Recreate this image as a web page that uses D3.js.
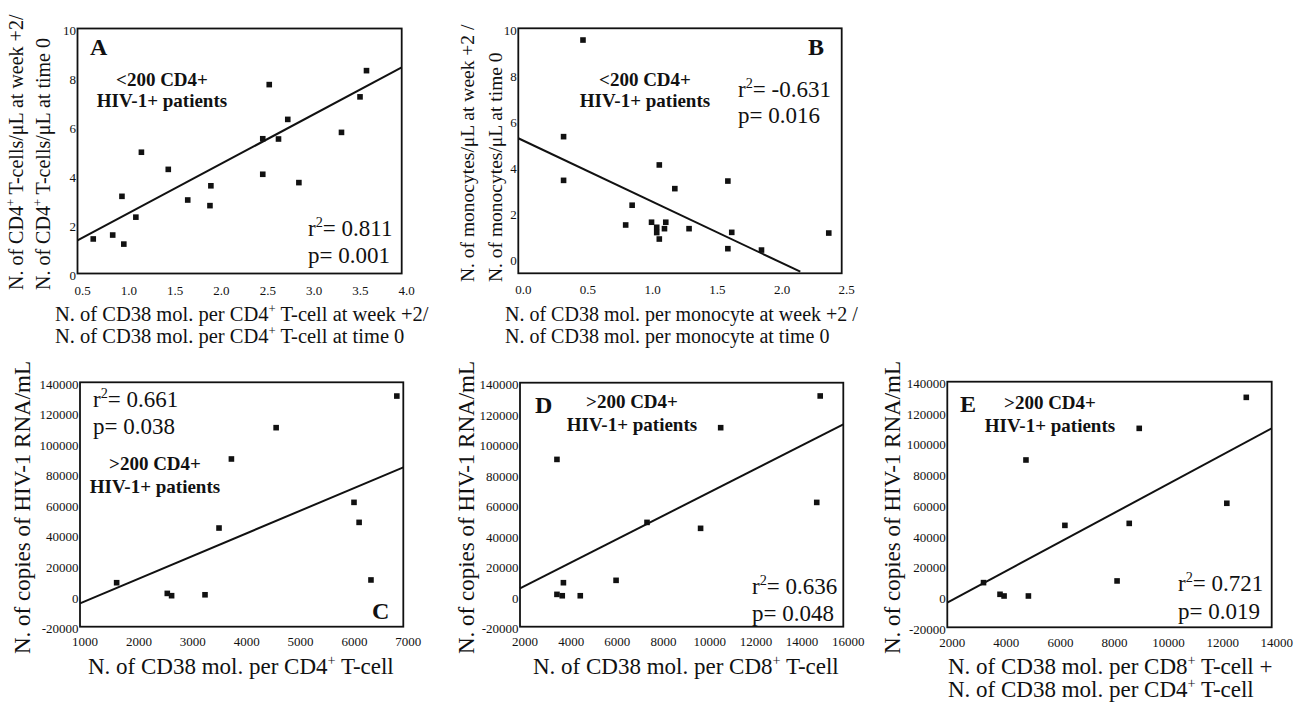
<!DOCTYPE html>
<html>
<head>
<meta charset="utf-8">
<script src="https://cdn.jsdelivr.net/npm/d3@7"></script>
<style>
  html, body { margin: 0; padding: 0; background: #fff; }
  svg { display: block; }
  text { font-family: "Liberation Serif", "Times New Roman", serif; fill: #111; }
</style>
</head>
<body>
<svg id="fig" width="1294" height="702"></svg>
<script>
// ---- Panel A: CD4+ T-cell ratio vs CD38 ratio (<200 CD4+ patients)
const aX = [0.67, 0.88, 1.00, 0.98, 1.13, 1.19, 1.48, 1.69, 1.93, 1.94, 2.50, 2.50, 2.57, 2.67, 2.77, 2.89, 3.35, 3.55, 3.62];
const aY = [1.41, 1.57, 1.20, 3.15, 2.30, 4.95, 4.25, 3.00, 2.77, 3.58, 5.50, 4.05, 7.71, 5.49, 6.29, 3.71, 5.76, 7.21, 8.28];
const aFit = [[0.5, 1.35], [4.0, 8.41]];
const aXTicks = [0.5, 1.0, 1.5, 2.0, 2.5, 3.0, 3.5, 4.0];
const aYTicks = [0, 2, 4, 6, 8, 10];

// ---- Panel B: monocyte ratio vs CD38 ratio (<200 CD4+ patients)
const bX = [0.50, 0.35, 0.35, 0.83, 0.88, 1.03, 1.07, 1.07, 1.09, 1.09, 1.13, 1.14, 1.21, 1.32, 1.62, 1.62, 1.65, 1.88, 2.40];
const bY = [9.49, 5.29, 3.39, 1.45, 2.31, 1.57, 1.35, 1.12, 0.84, 4.06, 1.29, 1.57, 3.03, 1.29, 3.36, 0.42, 1.13, 0.36, 1.10];
const bFit = [[0, 5.22], [2.18, -0.58]];
const bXTicks = [0.0, 0.5, 1.0, 1.5, 2.0, 2.5];
const bYTicks = [0, 2, 4, 6, 8, 10];

// ---- Panel C: viral load vs CD38 per CD4+ T-cell (>200 CD4+ patients)
const cX = [1680, 2620, 2700, 3320, 3580, 3810, 4640, 6085, 6180, 6400, 6880];
const cY = [8800, 1800, 300, 900, 44600, 89800, 110300, 61400, 48300, 10600, 131000];
const cFit = [[1000, -4700], [7000, 84300]];
const cXTicks = [1000, 2000, 3000, 4000, 5000, 6000, 7000];

// ---- Panel D: viral load vs CD38 per CD8+ T-cell
const dX = [3600, 3600, 3830, 3880, 4610, 6160, 7500, 9820, 10690, 14850, 15000];
const dY = [89700, 1200, 300, 8850, 300, 10400, 48400, 44500, 110500, 61500, 131300];
const dFit = [[2000, 5100], [16000, 112700]];
const dXTicks = [2000, 4000, 6000, 8000, 10000, 12000, 14000, 16000];

// ---- Panel E: viral load vs CD38 per CD8+ plus per CD4+ T-cell
const eX = [3340, 3950, 4100, 4910, 5000, 6350, 8280, 8730, 9100, 12340, 13060];
const eY = [9100, 1500, 400, 89000, 400, 46400, 10200, 47700, 109600, 60800, 129800];
const eFit = [[2000, -3900], [14000, 109600]];
const eXTicks = [2000, 4000, 6000, 8000, 10000, 12000, 14000];

// shared viral-load axis
const rnaYTicks = [-20000, 0, 20000, 40000, 60000, 80000, 100000, 120000, 140000];

const SERIF = '"Liberation Serif", "Times New Roman", serif';
const svg = d3.select("#fig");

// text with ^...^ segments drawn as superscripts
function rich(sel, str, fs) {
  const parts = str.split("^");
  let raised = false;
  parts.forEach((p, i) => {
    if (p === "") return;
    const t = sel.append("tspan").text(p);
    if (i % 2 === 1) {
      t.attr("font-size", fs * 0.62).attr("dy", -fs * 0.4);
      raised = true;
    } else if (raised) {
      t.attr("dy", fs * 0.4);
      raised = false;
    }
  });
  return sel;
}

function label(x, y, str, fs, opts = {}) {
  const t = svg.append("text")
    .attr("x", x).attr("y", y)
    .attr("font-family", SERIF)
    .attr("font-size", fs)
    .attr("font-weight", opts.bold ? "bold" : "normal")
    .attr("text-anchor", opts.anchor || "start");
  return rich(t, str, fs);
}

function vlabel(x, y, str, fs) {
  const t = svg.append("text")
    .attr("transform", `translate(${x},${y}) rotate(-90)`)
    .attr("font-family", SERIF)
    .attr("font-size", fs)
    .attr("text-anchor", "start");
  return rich(t, str, fs);
}

function panel(p) {
  const x = d3.scaleLinear().domain(p.xDomain).range([p.left, p.right]);
  const y = d3.scaleLinear().domain(p.yDomain).range([p.bottom, p.top]);
  const g = svg.append("g");

  const gx = g.append("g")
    .attr("transform", `translate(0,${p.bottom})`)
    .call(d3.axisBottom(x).tickValues(p.xTicks).tickFormat(p.xFmt).tickSize(0));
  gx.select(".domain").remove();
  gx.attr("font-family", SERIF).attr("font-size", 13);
  gx.selectAll("text").attr("fill", "#222").attr("y", p.xLabY).attr("dy", 0).attr("x", 4.5);

  const gy = g.append("g")
    .attr("transform", `translate(${p.left},0)`)
    .call(d3.axisLeft(y).tickValues(p.yTicks).tickFormat(p.yFmt).tickSize(0));
  gy.select(".domain").remove();
  gy.attr("font-family", SERIF).attr("font-size", 13);
  gy.selectAll("text").attr("fill", "#222").attr("x", -1.5).attr("dy", "0.45em");

  const pts = p.xs.map((v, i) => [v, p.ys[i]]);
  g.append("g").selectAll("rect").data(pts).join("rect")
    .attr("x", d => x(d[0]) - 2.8)
    .attr("y", d => y(d[1]) - 2.8)
    .attr("width", 5.6).attr("height", 5.6)
    .attr("fill", "#111");

  g.append("path")
    .attr("d", d3.line().x(d => x(d[0])).y(d => y(d[1]))(p.fit))
    .attr("fill", "none").attr("stroke", "#111").attr("stroke-width", 2);

  g.append("rect")
    .attr("x", p.left).attr("y", p.top)
    .attr("width", p.right - p.left).attr("height", p.bottom - p.top)
    .attr("fill", "none").attr("stroke", "#111").attr("stroke-width", 1.8);
}

const fmt1 = d3.format(".1f");
const fmtInt = d => String(d);

panel({ left: 77.5, right: 401.7, top: 28.5, bottom: 273.5,
  xDomain: [0.5, 4.0], yDomain: [0, 10], xTicks: aXTicks, yTicks: aYTicks,
  xFmt: fmt1, yFmt: fmtInt, xLabY: 21, xs: aX, ys: aY, fit: aFit });

panel({ left: 518.3, right: 841.7, top: 28.3, bottom: 273.3,
  xDomain: [0, 2.5], yDomain: [-0.65, 10], xTicks: bXTicks, yTicks: bYTicks,
  xFmt: fmt1, yFmt: fmtInt, xLabY: 21, xs: bX, ys: bY, fit: bFit });

panel({ left: 80, right: 403.3, top: 382.3, bottom: 626.7,
  xDomain: [1000, 7000], yDomain: [-20000, 140000], xTicks: cXTicks, yTicks: rnaYTicks,
  xFmt: fmtInt, yFmt: fmtInt, xLabY: 19.5, xs: cX, ys: cY, fit: cFit });

panel({ left: 520, right: 843.3, top: 382.7, bottom: 626.7,
  xDomain: [2000, 16000], yDomain: [-20000, 140000], xTicks: dXTicks, yTicks: rnaYTicks,
  xFmt: fmtInt, yFmt: fmtInt, xLabY: 19.5, xs: dX, ys: dY, fit: dFit });

panel({ left: 947.3, right: 1271.7, top: 381.7, bottom: 627.3,
  xDomain: [2000, 14000], yDomain: [-20000, 140000], xTicks: eXTicks, yTicks: rnaYTicks,
  xFmt: fmtInt, yFmt: fmtInt, xLabY: 19.5, xs: eX, ys: eY, fit: eFit });

// ---- Panel A annotations
label(90, 55, "A", 24, { bold: true });
label(162, 86, "<200 CD4+", 19, { bold: true, anchor: "middle" });
label(162, 107, "HIV-1+ patients", 19, { bold: true, anchor: "middle" });
label(308, 236, "r^2^= 0.811", 23);
label(308, 263, "p= 0.001", 23);
vlabel(23, 290, "N. of CD4^+^ T-cells/μL at week +2/", 20);
vlabel(50, 290, "N. of CD4^+^ T-cells/μL at time 0", 20);
label(55, 321, "N. of CD38 mol. per CD4^+^ T-cell at week +2/", 20.5);
label(55, 343, "N. of CD38 mol. per CD4^+^ T-cell at time 0", 20.5);

// ---- Panel B annotations
label(808, 55, "B", 24, { bold: true });
label(645, 86, "<200 CD4+", 19, { bold: true, anchor: "middle" });
label(645, 107, "HIV-1+ patients", 19, { bold: true, anchor: "middle" });
label(738, 97, "r^2^= -0.631", 23);
label(738, 123, "p= 0.016", 23);
vlabel(474, 282, "N. of monocytes/μL at week +2 /", 19.5);
vlabel(502, 282, "N. of monocytes/μL at time 0", 19.5);
label(505, 321, "N. of CD38 mol. per monocyte at week +2 /", 20);
label(505, 343, "N. of CD38 mol. per monocyte at time 0", 20);

// ---- Panel C annotations
label(372, 619, "C", 24, { bold: true });
label(155, 470, ">200 CD4+", 19, { bold: true, anchor: "middle" });
label(155, 493, "HIV-1+ patients", 19, { bold: true, anchor: "middle" });
label(93, 407, "r^2^= 0.661", 23);
label(93, 434, "p= 0.038", 23);
vlabel(30, 654, "N. of copies of HIV-1 RNA/mL", 23);
label(88, 674, "N. of CD38 mol. per CD4^+^ T-cell", 23);

// ---- Panel D annotations
label(535, 413, "D", 24, { bold: true });
label(632, 408, ">200 CD4+", 19, { bold: true, anchor: "middle" });
label(632, 431, "HIV-1+ patients", 19, { bold: true, anchor: "middle" });
label(752, 594, "r^2^= 0.636", 23);
label(752, 621, "p= 0.048", 23);
vlabel(474, 654, "N. of copies of HIV-1 RNA/mL", 23);
label(533, 674, "N. of CD38 mol. per CD8^+^ T-cell", 23);

// ---- Panel E annotations
label(960, 412, "E", 24, { bold: true });
label(1050, 409, ">200 CD4+", 19, { bold: true, anchor: "middle" });
label(1050, 432, "HIV-1+ patients", 19, { bold: true, anchor: "middle" });
label(1178, 591, "r^2^= 0.721", 23);
label(1178, 619, "p= 0.019", 23);
vlabel(900, 654, "N. of copies of HIV-1 RNA/mL", 23);
label(948, 674, "N. of CD38 mol. per CD8^+^ T-cell +", 23);
label(948, 697, "N. of CD38 mol. per CD4^+^ T-cell", 23);
</script>
</body>
</html>
